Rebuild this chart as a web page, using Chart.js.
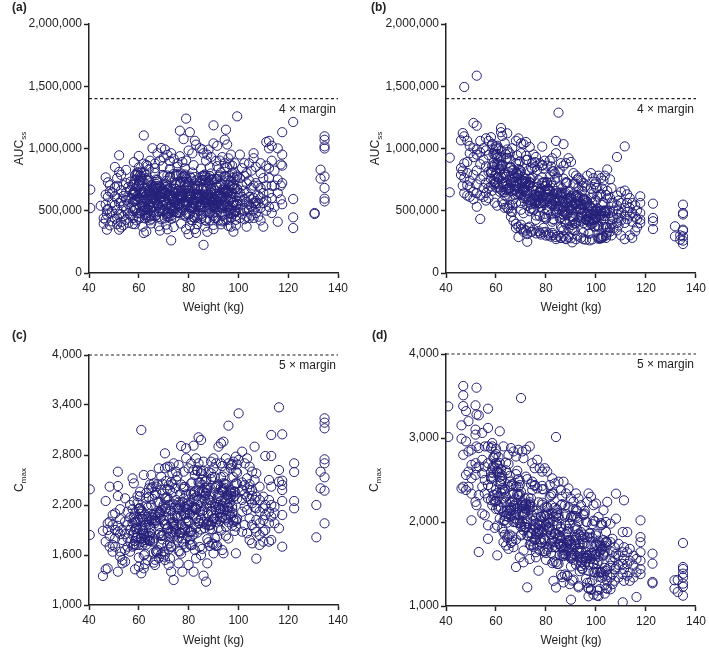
<!DOCTYPE html>
<html>
<head>
<meta charset="utf-8">
<script src="https://cdn.jsdelivr.net/npm/chart.js@4.4.1/dist/chart.umd.min.js"></script>
<style>
  html, body { margin: 0; padding: 0; background: #fff; }
  #wrap { position: relative; width: 709px; height: 653px; }
  canvas { position: absolute; }
</style>
</head>
<body>
<div id="wrap">
  <canvas id="pa" width="355" height="320" style="left:0;top:0"></canvas>
  <canvas id="pb" width="354" height="320" style="left:355px;top:0"></canvas>
  <canvas id="pc" width="355" height="333" style="left:0;top:320px"></canvas>
  <canvas id="pd" width="354" height="333" style="left:355px;top:320px"></canvas>
</div>
<script>
// each row: weight (kg), then the values read at that weight
// AUCss rows are in thousands
const aucWeightBased = [
  [40.5, 670, 522],
  [44.7, 540], [45.9, 396, 440],
  [46.7, 768, 629, 549, 428], [47.2, 348, 505, 470], [47.6, 728, 612, 514],
  [48.4, 705, 655, 478, 383], [49.3, 648, 566, 492, 415],
  [50.4, 852, 688, 615, 545, 436], [51.3, 762, 701, 598, 507, 446, 392],
  [52.1, 945, 812, 563, 472, 348], [52.9, 788, 664, 579, 471, 408, 366],
  [53.8, 705, 618, 537, 455, 383], [54.9, 828, 722, 648, 587, 503, 428],
  [55.8, 691, 606, 553, 478, 402], [56.7, 734, 668, 603, 523, 462],
  [57.6, 712, 642, 571, 497, 441, 394],
  [58.0, 579, 651, 519, 627, 631, 709, 891],
  [58.5, 787, 507, 751, 663, 643, 581, 392],
  [59.0, 747, 523, 795, 423, 691, 597],
  [59.5, 803, 479, 787, 811, 589, 617],
  [60.0, 435, 743, 451, 711, 703, 605, 848, 940],
  [60.5, 783, 535, 727, 479, 595, 639],
  [61.0, 759, 495, 771, 807, 641, 675],
  [61.5, 551, 743, 627, 583, 537, 655, 372],
  [62.0, 683, 807, 499, 607, 531, 645, 1105, 878, 321],
  [62.5, 467, 527, 507, 439, 643, 655],
  [63.0, 787, 751, 599, 451, 625, 525, 869, 333],
  [63.5, 743, 507, 483, 515, 585, 703, 861],
  [64.0, 447, 463, 751, 739, 537, 663, 832],
  [64.5, 615, 527, 579, 423, 655, 553, 902],
  [65.0, 567, 623, 459, 435, 625, 707, 398],
  [65.5, 591, 663, 531, 607, 705, 613, 1002],
  [66.0, 535, 567, 491, 671, 599, 691],
  [66.5, 455, 803, 639, 675, 701, 583, 842, 879],
  [67.0, 599, 463, 751, 715, 643, 679],
  [67.5, 547, 727, 683, 747, 549, 619, 962],
  [68.0, 699, 495, 491, 451, 543, 627, 376],
  [68.5, 607, 639, 691, 507, 609, 521, 903, 341],
  [69.0, 607, 659, 431, 631, 579, 647, 1004],
  [69.5, 607, 499, 547, 787, 635, 659, 857],
  [70.0, 655, 511, 779, 579, 569, 589, 928],
  [70.5, 511, 647, 695, 439, 635, 641, 992],
  [71.0, 475, 647, 739, 711, 691, 545, 388],
  [71.5, 495, 783, 451, 663, 679, 699, 948, 351],
  [72.0, 631, 451, 483, 475, 587, 601],
  [72.5, 683, 771, 515, 775, 587, 515, 836, 899],
  [73.0, 459, 547, 435, 535, 623, 691, 962, 262],
  [73.5, 495, 599, 675, 499, 591, 597],
  [74.0, 599, 795, 491, 579, 617, 547, 369, 918],
  [74.5, 451, 587, 535, 643, 569, 521],
  [75.0, 675, 715, 795, 779, 705, 575],
  [75.5, 783, 487, 659, 483, 591, 553, 853, 881],
  [76.0, 543, 659, 483, 787, 535, 617],
  [76.5, 487, 631, 735, 711, 607, 561, 1143, 938],
  [77.0, 731, 799, 523, 611, 627, 661, 397],
  [77.5, 619, 767, 643, 623, 659, 611, 892],
  [78.0, 779, 503, 731, 567, 551, 575, 1075],
  [78.5, 459, 791, 779, 471, 705, 639, 841],
  [79.0, 555, 755, 731, 543, 611, 567, 1240, 903, 352],
  [79.5, 599, 547, 703, 475, 613, 691],
  [80.0, 471, 731, 659, 571, 713, 661, 984, 312],
  [80.5, 475, 615, 527, 775, 609, 613, 381, 1131],
  [81.0, 631, 531, 427, 763, 637, 523],
  [81.5, 519, 687, 423, 807, 693, 567, 961],
  [82.0, 447, 587, 527, 555, 563, 537, 866],
  [82.5, 443, 719, 771, 463, 683, 675, 1062, 353],
  [83.0, 639, 539, 743, 543, 635, 607, 1031, 322],
  [83.5, 443, 571, 607, 671, 695, 625, 392],
  [84.0, 615, 527, 543, 699, 619, 621],
  [84.5, 611, 735, 499, 607, 551, 537, 1002],
  [85.0, 603, 435, 743, 471, 555, 529, 838],
  [85.5, 779, 747, 515, 459, 615, 625, 993],
  [86.0, 691, 591, 519, 783, 683, 633, 962, 226],
  [86.5, 791, 427, 747, 779, 607, 563, 374],
  [87.0, 767, 419, 731, 675, 627, 593, 903],
  [87.5, 587, 671, 499, 607, 629, 607, 951, 331],
  [88.0, 527, 547, 763, 719, 591, 637, 991],
  [88.5, 515, 483, 423, 779, 695, 597, 849],
  [89.0, 675, 751, 679, 799, 579, 643, 932],
  [89.5, 535, 751, 479, 575, 605, 561],
  [90.0, 679, 751, 463, 547, 593, 527, 386, 1186, 1041, 352],
  [90.5, 523, 439, 583, 491, 543, 659],
  [91.0, 707, 583, 755, 443, 635, 527, 901],
  [91.5, 559, 619, 755, 487, 609, 691, 858, 1022],
  [92.0, 619, 423, 531, 775, 567, 571],
  [92.5, 531, 595, 775, 699, 617, 641, 903],
  [93.0, 551, 719, 807, 623, 533, 641, 391],
  [93.5, 415, 459, 547, 615, 521, 605, 931],
  [94.0, 767, 423, 671, 639, 539, 681],
  [94.5, 471, 671, 651, 779, 543, 545, 844, 1071, 882],
  [95.0, 659, 775, 551, 427, 665, 659, 1151],
  [95.5, 535, 639, 643, 651, 553, 633, 1032, 851],
  [96.0, 427, 531, 739, 479, 657, 681, 378, 921],
  [96.5, 779, 507, 479, 699, 593, 517, 872],
  [97.0, 475, 739, 595, 447, 609, 643, 951, 372],
  [97.5, 543, 803, 691, 703, 703, 645, 862],
  [98.0, 563, 475, 767, 715, 565, 569, 332],
  [98.5, 751, 491, 503, 803, 681, 677, 882],
  [99.0, 427, 459, 611, 491, 543, 545, 383],
  [99.5, 783, 675, 555, 771, 673, 579, 1258],
  [100.6, 951, 762, 643, 581, 511, 441],
  [101.5, 842, 703, 612, 552, 472],
  [102.4, 882, 781, 662, 593, 502, 432],
  [103.3, 802, 721, 641, 572, 512, 452, 372],
  [104.3, 881, 742, 611, 551, 503, 441],
  [105.2, 822, 682, 592, 532, 462],
  [106.1, 962, 922, 702, 603, 563, 502, 442],
  [107.0, 852, 722, 578, 561, 532, 482],
  [108.0, 702, 622, 563, 452],
  [108.9, 882, 801, 682, 601, 522, 422],
  [110.0, 762, 642, 561, 372],
  [111.2, 1052, 862, 702, 583, 501],
  [112.3, 1061, 1001, 842, 762, 641, 531],
  [113.4, 1022, 902, 701, 602, 482],
  [114.5, 822, 702, 531],
  [115.8, 1001, 751, 642, 412],
  [117.0, 872, 702, 591],
  [117.6, 1131, 951, 862, 722, 552],
  [122.0, 1213, 594, 447, 361],
  [130.6, 482, 474],
  [133.0, 830, 758],
  [134.6, 1098, 1070, 1017, 1000, 776, 683, 597, 575]
];

const aucFlatDose = [
  [41.5, 926, 648],
  [46.0, 1065, 842, 788], [46.7, 1124, 822, 702],
  [47.3, 1494, 1098, 881, 762, 641],
  [48.5, 1062, 803, 892, 622, 705],
  [49.5, 1021, 962, 741, 688, 612],
  [51.0, 1205, 1002, 931, 652, 788, 592],
  [52.3, 1585, 1183, 992, 951, 712, 641, 532, 823],
  [53.7, 1061, 968, 874, 623, 434, 752],
  [55.0, 1003, 911, 682, 612, 779],
  [56.0, 1082, 985, 856, 642, 582, 724],
  [57.0, 1061, 948, 812, 601, 683],
  [58.0, 755, 805, 695, 812, 806, 1091],
  [58.5, 1036, 1031, 661, 862, 824],
  [59.0, 852, 712, 957, 738, 886, 991],
  [59.5, 564, 949, 779, 871, 723],
  [60.0, 1015, 1000, 730, 799, 687, 951],
  [60.5, 956, 541, 926, 869, 769, 1022],
  [61.0, 1002, 687, 877, 713, 769],
  [61.5, 823, 933, 653, 833, 871],
  [62.0, 859, 929, 669, 837, 773, 1165, 1131, 982],
  [62.5, 731, 576, 871, 786, 860, 1101],
  [63.0, 652, 717, 552, 798, 692],
  [63.5, 623, 648, 523, 790, 806, 1042],
  [64.0, 954, 919, 724, 666, 772],
  [64.5, 525, 925, 610, 676, 704, 1122, 992],
  [65.0, 671, 971, 516, 682, 810],
  [65.5, 913, 548, 848, 751, 683, 961],
  [66.0, 729, 494, 849, 659, 717, 452],
  [66.5, 775, 545, 490, 745, 825, 1002],
  [67.0, 711, 801, 591, 729, 827, 418],
  [67.5, 702, 672, 627, 663, 765],
  [68.0, 693, 883, 563, 803, 737, 1062, 362, 395],
  [68.5, 800, 945, 635, 708, 652],
  [69.0, 876, 836, 791, 784, 680, 1081, 289, 372],
  [69.5, 827, 802, 897, 638, 724],
  [70.0, 818, 563, 508, 626, 646, 1042, 962, 352, 388],
  [70.5, 724, 684, 744, 736, 662],
  [71.0, 668, 480, 665, 736, 602, 1035, 331, 356],
  [71.5, 717, 617, 757, 689, 653],
  [72.0, 598, 908, 758, 733, 717, 1052, 941, 341],
  [72.5, 539, 909, 644, 631, 663, 251, 312],
  [73.0, 570, 705, 825, 585, 717, 363],
  [73.5, 731, 496, 706, 757, 723, 1012, 372],
  [74.0, 847, 517, 552, 757, 581, 329],
  [74.5, 769, 834, 884, 678, 582, 332],
  [75.0, 515, 505, 595, 662, 696, 348, 952],
  [75.5, 851, 561, 891, 626, 578],
  [76.0, 462, 567, 427, 632, 662, 318, 932],
  [76.5, 828, 548, 608, 690, 611],
  [77.0, 559, 644, 609, 746, 584, 336],
  [77.5, 646, 656, 456, 563, 649, 882, 322],
  [78.0, 562, 647, 532, 561, 673, 309],
  [78.5, 768, 868, 862, 725, 613, 1015],
  [79.0, 839, 449, 729, 561, 613, 327, 362],
  [79.5, 475, 580, 695, 557, 729, 902],
  [80.0, 446, 631, 436, 647, 699, 301, 331],
  [80.5, 728, 598, 508, 674, 726, 862],
  [81.0, 504, 609, 669, 676, 630, 318, 302],
  [81.5, 775, 660, 655, 664, 604, 902],
  [82.0, 856, 471, 726, 594, 552, 292],
  [82.5, 552, 412, 817, 700, 554, 922, 322],
  [83.0, 428, 433, 818, 638, 578, 306],
  [83.5, 800, 750, 515, 581, 597],
  [84.0, 481, 566, 541, 565, 659, 1061, 962, 272, 288],
  [84.5, 597, 487, 767, 535, 639],
  [85.0, 688, 538, 808, 643, 513, 1288, 299],
  [85.5, 629, 439, 824, 587, 577],
  [86.0, 630, 450, 370, 647, 613, 882, 282, 281],
  [86.5, 362, 472, 642, 498, 680],
  [87.0, 758, 468, 343, 574, 528, 1035, 862, 293],
  [87.5, 494, 429, 409, 486, 632],
  [88.0, 730, 390, 720, 642, 572, 882, 272, 276],
  [88.5, 476, 726, 466, 598, 560],
  [89.0, 357, 502, 532, 582, 652, 922, 287],
  [89.5, 559, 599, 419, 521, 603],
  [90.0, 570, 600, 505, 617, 511, 892, 279],
  [90.5, 541, 356, 386, 544, 455, 246],
  [91.0, 717, 347, 432, 449, 633, 802],
  [91.5, 718, 398, 343, 553, 561],
  [92.0, 609, 519, 399, 627, 617, 782, 271],
  [92.5, 556, 751, 301, 598, 628],
  [93.0, 502, 422, 687, 450, 582, 762],
  [93.5, 608, 573, 443, 516, 550],
  [94.0, 414, 509, 554, 520, 470, 742, 283],
  [94.5, 455, 700, 660, 482, 550],
  [95.0, 401, 326, 271, 596, 593, 722],
  [95.5, 488, 583, 688, 545, 597],
  [96.0, 429, 559, 433, 581, 425, 702, 268],
  [96.5, 480, 470, 385, 533, 569, 782],
  [97.0, 316, 446, 431, 415, 453],
  [97.5, 262, 492, 317, 421, 543],
  [98.0, 603, 468, 678, 393, 525, 802],
  [98.5, 270, 395, 515, 566, 424],
  [99.0, 476, 641, 496, 404, 426, 762],
  [99.5, 712, 372, 377, 432, 462],
  [100.0, 683, 583, 493, 506, 450, 732],
  [100.5, 614, 684, 519, 380, 494],
  [101.0, 275, 285, 370, 476, 380, 782],
  [101.5, 457, 627, 277, 499, 471],
  [102.0, 278, 633, 283, 501, 465, 762],
  [102.5, 679, 284, 294, 479, 547],
  [103.0, 370, 290, 565, 495, 427, 742],
  [103.5, 486, 496, 503, 389, 457, 782],
  [104.0, 282, 302, 627, 369, 493],
  [104.5, 599, 659, 324, 366, 502, 832],
  [105.6, 752, 602, 482, 422, 362, 332],
  [106.2, 682, 452, 562, 392, 302],
  [107.0, 502, 562, 442, 362],
  [108.4, 932, 622, 542, 472, 402, 342],
  [109.0, 582, 502, 442, 382],
  [110.0, 652, 562, 482, 422, 302],
  [111.5, 1017, 662, 522, 462, 402, 272],
  [112.5, 632, 562, 492, 432],
  [113.5, 602, 522, 462, 302],
  [114.5, 562, 482, 412, 282],
  [115.7, 542, 452, 335],
  [116.4, 502, 432, 367],
  [117.7, 616, 562, 482, 428, 402],
  [122.8, 557, 442, 415, 353],
  [131.6, 375, 294],
  [133.7, 268, 302],
  [134.8, 549, 482, 470, 348, 340, 294, 233, 260]
];

const cmaxWeightBased = [
  [40.3, 2388, 1840],
  [45.6, 1348, 1890], [46.7, 2248, 1428, 1760], [47.5, 1980, 1900, 1440],
  [48.3, 2420, 2000, 1830, 1700], [49.5, 2080, 1960, 1720, 1640],
  [50.5, 2100, 1900, 1800, 1700], [51.6, 2600, 2428, 2308, 1950, 1880, 1400],
  [52.5, 2150, 2030, 1850, 1640, 1580], [53.4, 1900, 1780, 1540, 1500],
  [54.5, 2280, 2000, 1850, 1660, 1520], [55.5, 2120, 1960, 1800, 1700],
  [56.5, 2200, 2050, 1900, 1760, 1640], [57.5, 2520, 2150, 1980, 1840, 1700],
  [58.0, 1874, 1714, 2244, 1729, 2059, 2460],
  [58.5, 2098, 2028, 1768, 1908, 1993, 1428],
  [59.0, 1722, 1912, 2002, 1932, 1807],
  [59.5, 1816, 2306, 2226, 1851, 2021],
  [60.0, 1720, 1570, 1460, 2150, 2155],
  [60.5, 1904, 2094, 2304, 2034, 2164, 2360],
  [61.0, 1798, 2058, 1803, 2138, 1758, 3100, 1380],
  [61.5, 1912, 1892, 1722, 2032, 2122],
  [62.0, 1596, 1856, 1826, 1751, 1846, 2560, 1440],
  [62.5, 1490, 1960, 1610, 1780, 2085],
  [63.0, 2194, 1924, 2344, 1724, 2054, 2280],
  [63.5, 1538, 1788, 2028, 2168, 1813],
  [64.0, 1962, 2292, 2002, 1777, 1832, 2400],
  [64.5, 2446, 1766, 1776, 1861, 1936],
  [65.0, 2400, 2200, 2020, 2060, 1920, 2560],
  [65.5, 2274, 2414, 2084, 1759, 2044],
  [66.0, 1508, 1628, 1798, 2013, 1773, 2460],
  [66.5, 1982, 2322, 1542, 2082, 2012, 1480],
  [67.0, 1636, 2346, 1646, 2101, 2011, 2420],
  [67.5, 2450, 1660, 1620, 2060, 2230],
  [68.0, 1844, 1564, 2234, 2114, 1944, 2640],
  [68.5, 2088, 2108, 2115, 1863, 2033],
  [69.0, 1612, 1732, 2382, 1827, 2137, 2540],
  [69.5, 2336, 2456, 1786, 1831, 2171],
  [70.0, 1840, 1580, 1640, 2205, 2020],
  [70.5, 1604, 1974, 2154, 1969, 2279, 2820, 2640, 1540],
  [71.0, 2158, 2278, 2488, 2123, 1963],
  [71.5, 1722, 2392, 2292, 1927, 1912, 2660],
  [72.0, 2436, 1666, 1816, 2261, 2201, 1480],
  [72.5, 2380, 1560, 1740, 2045, 1860, 2660],
  [73.0, 1694, 1704, 2474, 2129, 1979, 1400],
  [73.5, 2448, 2348, 1878, 1998, 2038, 2580],
  [74.0, 1822, 1992, 1942, 1972, 2207, 2700, 1300],
  [74.5, 2066, 1846, 2406, 1911, 2171],
  [75.0, 2260, 1960, 2500, 2195, 1870, 2600],
  [75.5, 2154, 1774, 2544, 2069, 2044],
  [76.0, 2168, 1808, 1648, 2233, 2148, 2680, 1500],
  [76.5, 1642, 1862, 2202, 1872, 2327],
  [77.0, 2446, 1866, 1616, 2076, 1961, 2908],
  [77.5, 1930, 1800, 1760, 1870, 2235, 1400],
  [78.0, 2414, 1734, 2394, 2274, 2099, 2600],
  [78.5, 1918, 2418, 1898, 2178, 2083],
  [79.0, 1692, 1982, 2042, 2152, 2327, 2880, 2760],
  [79.5, 2106, 2186, 1826, 2011, 2216],
  [80.0, 2140, 2200, 2010, 2265, 2000, 2640, 1480],
  [80.5, 2094, 1724, 1784, 2089, 1874],
  [81.0, 2458, 1718, 1888, 1873, 2333, 2700],
  [81.5, 2472, 1832, 1722, 2147, 2167],
  [82.0, 2266, 2086, 1846, 2346, 2321, 2912, 2620, 1400],
  [82.5, 2170, 2560, 1660, 2285, 2360],
  [83.0, 2044, 2144, 1924, 2164, 2149, 2760, 1560],
  [83.5, 2618, 2608, 1868, 2303, 2208],
  [84.0, 2262, 1982, 2472, 2007, 2377, 3012, 2700],
  [84.5, 1696, 2466, 2126, 2351, 1981],
  [85.0, 2610, 2580, 2040, 2185, 1905, 2980, 1600],
  [85.5, 2504, 1674, 2444, 2374, 2124],
  [86.0, 2608, 1978, 2358, 1998, 2138, 2720, 1352],
  [86.5, 2262, 2482, 1922, 2312, 2407],
  [87.0, 2346, 2486, 1966, 2336, 2176, 1280],
  [87.5, 2100, 1790, 2380, 2220, 2405, 1500],
  [88.0, 1954, 2084, 1754, 2264, 1999, 2600],
  [88.5, 1908, 1958, 1708, 2258, 2298],
  [89.0, 2582, 2512, 2122, 1962, 2227, 2720],
  [89.5, 1736, 2536, 1906, 2001, 2071],
  [90.0, 2040, 2640, 1730, 2030, 2350, 2760, 1620],
  [90.5, 2534, 1804, 2404, 2214, 2044],
  [91.0, 2178, 1708, 2418, 1998, 2143, 2700],
  [91.5, 2282, 1822, 1712, 2227, 2427],
  [92.0, 2166, 2346, 1926, 2201, 2446, 2900],
  [92.5, 2160, 2100, 2010, 2050, 2305],
  [93.0, 2154, 2534, 1894, 2414, 2249, 2940, 2700],
  [93.5, 2378, 2668, 2048, 2188, 2052, 1660],
  [94.0, 2542, 2462, 2372, 2392, 2132, 2960, 1620],
  [94.5, 2456, 2406, 2596, 2041, 2256],
  [95.0, 2450, 1940, 1830, 2025, 2075, 2760],
  [95.5, 2274, 2194, 2314, 2318, 2129],
  [96.0, 2168, 1798, 2172, 2328, 1993, 3152, 2700],
  [96.5, 2282, 2082, 2362, 2222, 2132],
  [97.0, 2056, 2676, 2376, 2346, 2306, 2640],
  [97.5, 1950, 2690, 2160, 2105, 2185],
  [98.0, 2024, 2294, 2534, 2004, 2334, 2720],
  [98.5, 2358, 1888, 2308, 2448, 2363],
  [99.0, 2602, 1942, 2012, 2462, 2022, 2780, 1620],
  [99.5, 2456, 2586, 2686, 2276, 2036],
  [100.1, 3300, 2740],
  [101.5, 2840, 2380, 2470, 2260, 2120, 1880],
  [102.5, 2700, 2440, 2330, 2180, 1960],
  [103.5, 2760, 2520, 2300, 2400, 2140, 1860],
  [104.5, 2660, 2380, 2270, 2450, 2040, 1780],
  [105.5, 2600, 2310, 2220, 2380, 1960, 1740],
  [106.5, 2900, 2500, 2260, 2170, 1920],
  [107.2, 2580, 2300, 2160, 2020, 1880, 1556],
  [108.5, 2420, 2260, 2120, 1980, 1840, 1720],
  [110.0, 2300, 2160, 2020, 1880, 1760],
  [110.8, 2788, 2200, 2080, 1900],
  [112.3, 2500, 2260, 2120, 1980, 1760],
  [113.2, 3040, 2788, 2420, 2200, 2060, 1780],
  [114.5, 2180, 2100, 1980],
  [116.3, 3372, 2620, 2480, 1920],
  [117.6, 3048, 2492, 2440, 2380, 2248, 2080, 1700],
  [122.4, 2700, 2596, 2248, 2160],
  [131.3, 2200, 1812],
  [133.0, 2600, 2400],
  [134.6, 3240, 3188, 3120, 2748, 2700, 2532, 2372, 1980]
];

const cmaxFlatDose = [
  [40.9, 3377, 3012],
  [46.2, 3151, 2992, 2400], [46.9, 3619, 3508, 3380, 2800, 2420],
  [48.0, 3320, 2960, 2560, 2380], [49.0, 3200, 2840, 2600, 2420],
  [50.2, 2860, 2680, 2520, 2337, 2020], [51.8, 3389, 3100, 3040, 2700, 2560, 2240],
  [52.2, 3599, 3280, 2900, 2640, 2200], [53.1, 3270, 2880, 2660, 2320, 1643],
  [54.5, 3060, 2740, 2580, 2420, 2100], [55.5, 2900, 2660, 2500, 2340, 2080],
  [56.8, 3349, 3120, 2900, 2700, 2440, 2280, 1960, 1800],
  [58.0, 2410, 2590, 2260, 2515, 2540, 2880],
  [58.5, 2940, 2900, 2200, 2640, 2530],
  [59.0, 2580, 2270, 2770, 2325, 2665, 2760],
  [59.5, 1930, 2790, 2320, 2645, 2240],
  [60.0, 2810, 2870, 2250, 2385, 2155, 2700],
  [60.5, 2687, 1957, 2607, 2587, 2342, 1603],
  [61.0, 2774, 2154, 2634, 2184, 2304],
  [61.5, 2461, 2701, 2041, 2536, 2581, 3080],
  [62.0, 2448, 2628, 2168, 2488, 2343],
  [62.5, 2235, 1925, 2515, 2400, 2555],
  [63.0, 2012, 2282, 1882, 2377, 2117, 2900, 1760],
  [63.5, 2069, 2019, 1849, 2359, 2389],
  [64.0, 2706, 2616, 2236, 2071, 2301, 1720],
  [64.5, 1813, 2583, 1993, 2098, 2138],
  [65.0, 2100, 2690, 1830, 2060, 2420, 2800, 1680],
  [65.5, 2550, 1850, 2480, 2240, 2130],
  [66.0, 2140, 1750, 2430, 2075, 2170, 2880],
  [66.5, 2240, 1830, 1770, 2245, 2450],
  [67.0, 2150, 2330, 2000, 2200, 2435, 2840, 1700],
  [67.5, 2190, 2000, 2080, 2045, 2270],
  [68.0, 2110, 2570, 1790, 2425, 2220, 2780, 1464],
  [68.5, 2330, 2610, 2020, 2160, 1990],
  [69.0, 2510, 2420, 2310, 2330, 2085, 2860],
  [69.5, 2440, 2330, 2490, 1990, 2170, 1580],
  [70.0, 2360, 1850, 1840, 1945, 1970, 3476],
  [70.5, 2200, 2120, 2205, 2235, 2005, 2840],
  [71.0, 2090, 1660, 2110, 2185, 1900, 2760, 1520],
  [71.5, 2160, 1940, 2280, 2110, 1975],
  [72.0, 1940, 2540, 2210, 2220, 2160, 2860],
  [72.5, 1840, 2510, 2010, 1985, 2035, 1222],
  [73.0, 1830, 2170, 2290, 1870, 2140],
  [73.5, 2210, 1730, 2160, 2235, 2200, 2900, 1560],
  [74.0, 2450, 1720, 1770, 2280, 1865],
  [74.5, 2180, 2380, 2480, 2080, 1855, 2700],
  [75.0, 1720, 1700, 1910, 2015, 2135],
  [75.5, 2430, 1790, 2440, 1970, 1790, 2640],
  [76.0, 1640, 1860, 1580, 1930, 2050],
  [76.5, 2400, 1720, 1980, 2095, 1875, 2740],
  [77.0, 1890, 1920, 1970, 2235, 1855, 1420],
  [77.5, 1910, 2010, 1660, 1795, 1965, 2640],
  [78.0, 1790, 2060, 1760, 1755, 2065],
  [78.5, 2230, 2430, 2390, 2205, 1880, 2600],
  [79.0, 2390, 1650, 2080, 1805, 1910],
  [79.5, 1650, 1780, 2070, 1795, 2175, 2640],
  [80.0, 1550, 1960, 1630, 1970, 2100],
  [80.5, 2180, 1900, 1670, 2085, 2170, 2600],
  [81.0, 1700, 1920, 1990, 2045, 1935],
  [81.5, 2300, 1990, 1940, 2030, 1910, 2440],
  [82.0, 2320, 1630, 2200, 1850, 1750],
  [82.5, 1700, 1510, 2340, 2105, 1775, 2520],
  [83.0, 1530, 2340, 2010, 1815, 2065, 1300],
  [83.5, 2170, 1700, 1860, 1760, 1862, 2460],
  [84.0, 1700, 2090, 1520, 1865, 2060, 3012, 1220],
  [84.5, 1500, 2150, 1970, 1805, 2105],
  [85.0, 2080, 1500, 1850, 1740, 2050, 2480],
  [85.5, 1811, 1831, 1881, 1736, 1606],
  [86.0, 2202, 1942, 1372, 1712, 1922, 2380],
  [86.5, 1343, 2303, 2213, 1703, 1613],
  [87.0, 1744, 1594, 1664, 1684, 1619, 2480, 1280],
  [87.5, 1375, 2065, 2195, 1615, 1975],
  [88.0, 2096, 1856, 1606, 1956, 1706, 2340],
  [88.5, 1887, 1747, 1357, 1732, 1777, 1360],
  [89.0, 1918, 2178, 1828, 1778, 1668, 2400],
  [89.5, 1589, 1979, 1789, 1784, 1764, 1260],
  [90.0, 2060, 1470, 1740, 1600, 1565, 2280, 1075],
  [90.5, 1722, 1302, 2072, 1572, 1602],
  [91.0, 1314, 2154, 2074, 1619, 1549, 2240],
  [91.5, 1736, 1786, 1926, 1706, 1616],
  [92.0, 2148, 2068, 1818, 1948, 1493, 2340],
  [92.5, 2050, 2130, 1680, 1590, 1910],
  [93.0, 1222, 2002, 1862, 1742, 1657, 2280, 1240],
  [93.5, 1634, 1844, 1414, 1694, 1739],
  [94.0, 1656, 1476, 1526, 1881, 1826, 2200],
  [94.5, 1568, 1798, 1438, 1523, 1448],
  [95.0, 2090, 2080, 1590, 1755, 1850],
  [95.5, 1822, 2132, 1492, 1742, 1572, 2100],
  [96.0, 2004, 1324, 1564, 1639, 1529],
  [96.5, 1816, 1996, 1276, 1571, 1601, 2240],
  [97.0, 1208, 1418, 1212, 1608, 1493, 2340, 1115],
  [97.5, 1280, 1860, 1870, 1600, 1815],
  [98.0, 1202, 1732, 1192, 1562, 1637, 2300],
  [98.5, 1974, 1304, 1594, 1814, 1629],
  [99.0, 1136, 1406, 2016, 1496, 1506, 2200],
  [99.5, 1398, 1558, 2008, 1713, 1613],
  [100.0, 1730, 1440, 1860, 1840, 1610, 2220],
  [100.5, 1184, 1724, 1124, 1399, 1509],
  [101.0, 1588, 1118, 1538, 1778, 1348, 2060],
  [101.5, 1722, 1642, 1202, 1747, 1402],
  [102.0, 1716, 1666, 1986, 1396, 1401, 1960],
  [102.5, 1680, 1970, 1410, 1335, 1695],
  [103.0, 1784, 1364, 1624, 1599, 1609, 2140],
  [103.5, 1248, 1648, 1148, 1453, 1713],
  [104.0, 1212, 1762, 1882, 1757, 1417, 2000],
  [104.5, 1206, 1756, 1436, 1301, 1371, 2240],
  [105.8, 1980, 1760, 1560, 1480, 1340, 1200],
  [106.6, 1800, 1640, 1520, 1380, 1260],
  [107.4, 1700, 1580, 1440, 1300],
  [108.0, 2337, 2040, 1620, 1460],
  [109.0, 1740, 1600, 1490, 1340],
  [110.7, 1880, 1640, 1500, 1380, 1044],
  [111.2, 2258, 1700, 1560, 1440, 1300],
  [112.5, 1880, 1640, 1500, 1360],
  [113.5, 1680, 1540, 1400, 1300],
  [115.0, 1600, 1480, 1340],
  [116.2, 1560, 1400, 1107],
  [117.8, 2020, 1820, 1760, 1640, 1540, 1440, 1380],
  [122.6, 1623, 1504, 1286, 1270],
  [131.4, 1306, 1206],
  [132.7, 1310, 1167],
  [134.8, 1750, 1464, 1440, 1385, 1340, 1266, 1230, 1123]
];

const aucTicks = [0, 500000, 1000000, 1500000, 2000000];
const cmaxTicksA = [1000, 1600, 2200, 2800, 3400, 4000];
const cmaxTicksB = [1000, 2000, 3000, 4000];
const aucMargin = 1400000;   // 4 x margin
const cmaxMargin = 4000;     // 5 x margin

const FONT = '"Liberation Sans", Arial, Helvetica, sans-serif';
const INK = '#222';
const DOT = '#241f78';

function toPoints(rows, unit) {
  const pts = [];
  rows.forEach(r => {
    for (let i = 1; i < r.length; i++) pts.push({ x: r[0], y: r[i] * unit });
  });
  return pts;
}

// dashed margin line, its label, panel letter and the y title with a subscript
const extras = {
  id: 'extras',
  afterDatasetsDraw(chart, args, o) {
    const { ctx, chartArea: ca, scales } = chart;
    const y = scales.y.getPixelForValue(o.margin);
    ctx.save();
    ctx.strokeStyle = INK;
    ctx.lineWidth = 1.2;
    ctx.setLineDash([3, 2.5]);
    ctx.beginPath();
    ctx.moveTo(ca.left, y);
    ctx.lineTo(ca.right, y);
    ctx.stroke();
    ctx.setLineDash([]);
    ctx.fillStyle = INK;
    ctx.font = '12px ' + FONT;
    ctx.textAlign = 'right';
    ctx.textBaseline = 'middle';
    ctx.fillText(o.marginText, ca.right - 2, y + 11);

    ctx.font = 'bold 12px ' + FONT;
    ctx.textAlign = 'left';
    ctx.fillText(o.letter, o.letterX, o.letterY);

    ctx.translate(o.titleX, (ca.top + ca.bottom) / 2);
    ctx.rotate(-Math.PI / 2);
    ctx.font = '12px ' + FONT;
    const wMain = ctx.measureText(o.main).width;
    ctx.font = '8px ' + FONT;
    const wSub = ctx.measureText(o.sub).width;
    const x0 = -(wMain + wSub) / 2;
    ctx.textAlign = 'left';
    ctx.font = '12px ' + FONT;
    ctx.fillText(o.main, x0, 0);
    ctx.font = '8px ' + FONT;
    ctx.fillText(o.sub, x0 + wMain, 4);
    ctx.restore();
  }
};

function makeChart(id, rows, unit, cfg) {
  return new Chart(document.getElementById(id), {
    type: 'scatter',
    data: {
      datasets: [{
        data: toPoints(rows, unit),
        pointRadius: 4.6,
        pointHoverRadius: 4.6,
        pointBorderWidth: 1,
        borderColor: DOT,
        backgroundColor: 'rgba(0,0,0,0)'
      }]
    },
    options: {
      responsive: false,
      animation: false,
      devicePixelRatio: 1,
      layout: { padding: { left: 0, right: cfg.padRight, top: cfg.padTop, bottom: 0 } },
      plugins: {
        legend: { display: false },
        tooltip: { enabled: false },
        extras: cfg.extras
      },
      scales: {
        x: {
          type: 'linear',
          min: 40,
          max: 140,
          afterFit: s => { s.height = cfg.xHeight; },
          border: { display: true, color: INK, width: 1.5 },
          grid: { drawOnChartArea: false, drawTicks: true, tickLength: 5, color: INK, tickWidth: 1.5 },
          ticks: { stepSize: 20, padding: 3, color: INK, font: { family: FONT, size: 12 } },
          title: { display: true, text: 'Weight (kg)', color: INK, font: { family: FONT, size: 12 }, padding: { top: 4, bottom: 5 } }
        },
        y: {
          type: 'linear',
          min: cfg.yTicks[0],
          max: cfg.yTicks[cfg.yTicks.length - 1],
          afterFit: s => { s.width = cfg.yWidth; },
          afterBuildTicks: s => { s.ticks = cfg.yTicks.map(v => ({ value: v })); },
          border: { display: true, color: INK, width: 1.5 },
          grid: { drawOnChartArea: false, drawTicks: true, tickLength: 5, color: INK, tickWidth: 1.5 },
          ticks: {
            padding: 2,
            color: INK,
            font: { family: FONT, size: 12 },
            callback: v => Number(v).toLocaleString('en-US')
          }
        }
      }
    },
    plugins: [extras]
  });
}

makeChart('pa', aucWeightBased, 1000, {
  padRight: 17, padTop: 24, xHeight: 47, yWidth: 89, yTicks: aucTicks,
  extras: { margin: aucMargin, marginText: '4 \u00d7 margin', letter: '(a)', letterX: 12, letterY: 8, titleX: 20, main: 'AUC', sub: 'ss' }
});
makeChart('pb', aucFlatDose, 1000, {
  padRight: 13, padTop: 24, xHeight: 47, yWidth: 91, yTicks: aucTicks,
  extras: { margin: aucMargin, marginText: '4 \u00d7 margin', letter: '(b)', letterX: 16, letterY: 8, titleX: 21, main: 'AUC', sub: 'ss' }
});
makeChart('pc', cmaxWeightBased, 1, {
  padRight: 17, padTop: 35, xHeight: 48, yWidth: 89, yTicks: cmaxTicksA,
  extras: { margin: cmaxMargin, marginText: '5 \u00d7 margin', letter: '(c)', letterX: 12, letterY: 16, titleX: 20, main: 'C', sub: 'max' }
});
makeChart('pd', cmaxFlatDose, 1, {
  padRight: 11, padTop: 34, xHeight: 47, yWidth: 91, yTicks: cmaxTicksB,
  extras: { margin: cmaxMargin, marginText: '5 \u00d7 margin', letter: '(d)', letterX: 17, letterY: 16, titleX: 20, main: 'C', sub: 'max' }
});
</script>
</body>
</html>
